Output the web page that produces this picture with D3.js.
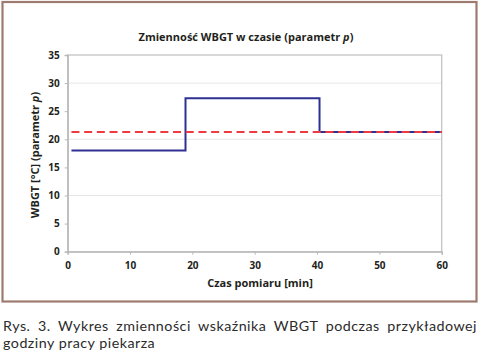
<!DOCTYPE html>
<html><head><meta charset="utf-8">
<script src="https://cdn.jsdelivr.net/npm/d3@7"></script>
<style>body{margin:0;background:#fff}svg{display:block}</style>
</head><body>
<svg id="c" width="480" height="357"></svg>
<script>
// Data
const stepTimes = [0.6, 18.9, 40.4, 60];   // step edges [min]
const wbgtValues = [18.0, 27.3, 21.3];      // WBGT per interval [°C]
const meanValue = 21.3;                     // parameter p (mean)
const meanRange = [0.6, 60];
const xTicks = [0, 10, 20, 30, 40, 50, 60];
const yTicks = [0, 5, 10, 15, 20, 25, 30, 35];
const gridValues = [10, 20, 30];
const title = "Zmienność WBGT w czasie (parametr ";
const xTitle = "Czas pomiaru [min]";
const yTitle = "WBGT [°C] (parametr ";
const caption1 = "Rys. 3. Wykres zmienności wskaźnika WBGT podczas przykładowej";
const caption2 = "godziny pracy piekarza";

const svg = d3.select("#c");
const x = d3.scaleLinear().domain([0, 60]).range([67.7, 441.7]);
const y = d3.scaleLinear().domain([0, 35]).range([251.7, 55]);
const font = "'Open Sans', 'Liberation Sans', sans-serif";
const capFont = "Lato, 'Open Sans', sans-serif";

// frame
svg.append("rect").attr("x", 2.5).attr("y", 2).attr("width", 474).attr("height", 299.5)
  .attr("fill", "#fff").attr("stroke", "#9d7b71").attr("stroke-width", 2.2);

// gridlines
svg.append("g").selectAll("line").data(gridValues).join("line")
  .attr("x1", x(0)).attr("x2", x(60)).attr("y1", d => y(d)).attr("y2", d => y(d))
  .attr("stroke", "#e6e6e6").attr("stroke-width", 1);

// plot border
svg.append("rect").attr("x", x(0)).attr("y", y(35)).attr("width", x(60) - x(0)).attr("height", y(0) - y(35))
  .attr("fill", "none").attr("stroke", "#c4c4c4").attr("stroke-width", 1.3);

// axes
const xa = svg.append("g").attr("transform", `translate(0,${y(0)})`)
  .call(d3.axisBottom(x).tickValues(xTicks).tickSize(3).tickPadding(7));
const ya = svg.append("g").attr("transform", `translate(${x(0)},0)`)
  .call(d3.axisLeft(y).tickValues(yTicks).tickSize(3).tickPadding(5));
[xa, ya].forEach(a => {
  a.select(".domain").attr("stroke", "#b8b8b8").attr("stroke-width", 1.3);
  a.selectAll(".tick line").attr("stroke", "#b8b8b8");
  a.selectAll("text").attr("font-family", font).attr("font-weight", "bold")
    .attr("font-size", 10).attr("fill", "#231f20");
});

// step series
const stepData = wbgtValues.map((v, i) => [stepTimes[i], v]);
stepData.push([stepTimes[stepTimes.length - 1], wbgtValues[wbgtValues.length - 1]]);
svg.append("path").datum(stepData)
  .attr("d", d3.line().x(d => x(d[0])).y(d => y(d[1])).curve(d3.curveStepAfter))
  .attr("fill", "none").attr("stroke", "#2e3192").attr("stroke-width", 2);

// mean dashed line
svg.append("path").datum(meanRange.map(t => [t, meanValue]))
  .attr("d", d3.line().x(d => x(d[0])).y(d => y(d[1])))
  .attr("fill", "none").attr("stroke", "#ef3b3f").attr("stroke-width", 2)
  .attr("stroke-dasharray", "8,4.7");

// titles
const t = svg.append("text").attr("x", 246).attr("y", 41).attr("text-anchor", "middle")
  .attr("font-family", font).attr("font-weight", "bold").attr("font-size", 11).attr("fill", "#231f20");
t.append("tspan").text(title);
t.append("tspan").attr("font-style", "italic").text("p");
t.append("tspan").text(")");

svg.append("text").attr("x", 260).attr("y", 287).attr("text-anchor", "middle")
  .attr("font-family", font).attr("font-weight", "bold").attr("font-size", 11).attr("fill", "#231f20")
  .text(xTitle);

const yt = svg.append("text").attr("transform", "translate(39,155) rotate(-90)").attr("text-anchor", "middle")
  .attr("font-family", font).attr("font-weight", "bold").attr("font-size", 11).attr("fill", "#231f20");
yt.append("tspan").text(yTitle);
yt.append("tspan").attr("font-style", "italic").text("p");
yt.append("tspan").text(")");

// caption (line 1 justified: part letter spacing, rest word spacing)
const c1 = svg.append("text").attr("x", 3).attr("y", 331).attr("font-family", capFont).attr("font-weight", 400)
  .attr("font-size", 14.3).attr("fill", "#2b2b2b").text(caption1);
const natural = c1.node().getComputedTextLength();
const ls = 0.55 * (474 - natural) / caption1.length;
c1.attr("letter-spacing", ls);
const withLs = c1.node().getComputedTextLength();
const gaps = caption1.split(" ").length - 1;
c1.attr("word-spacing", Math.max(0, (474 - withLs) / gaps));
svg.append("text").attr("x", 3).attr("y", 348.3).attr("font-family", capFont).attr("font-weight", 400)
  .attr("font-size", 14.3).attr("fill", "#2b2b2b").attr("letter-spacing", ls)
  .text(caption2);
</script>
</body></html>
